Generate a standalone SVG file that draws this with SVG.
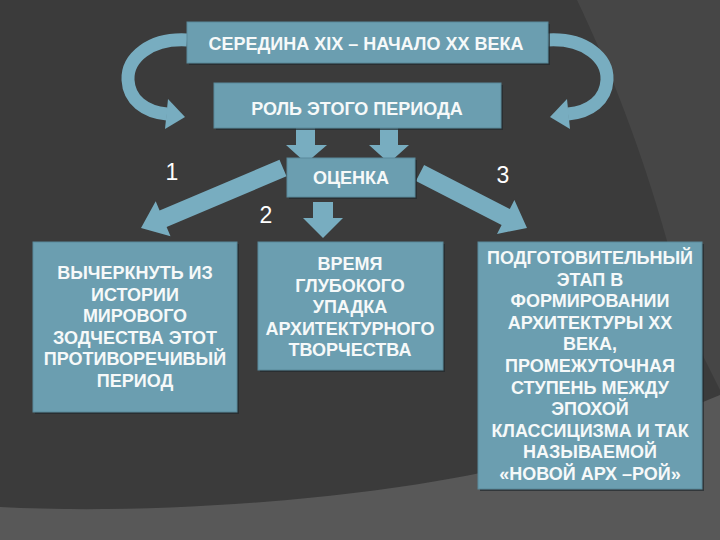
<svg xmlns="http://www.w3.org/2000/svg" width="720" height="540" viewBox="0 0 720 540">
<defs>
<style>
.box{fill:#6b9eb0;stroke:#5a8a9b;stroke-width:1}
.shadow{fill:#222a2d;opacity:0.7}
.arrow{fill:#78adc0}
.t{font-family:"Liberation Sans",Arial,sans-serif;font-size:18px;font-weight:bold;fill:#f6f9f9;text-anchor:middle}
.num{font-family:"Liberation Sans",Arial,sans-serif;font-size:23px;fill:#ffffff;text-anchor:middle}
</style>
</defs>
<rect x="0" y="0" width="720" height="540" fill="#3b3b3b"/>
<path d="M577,0 C615,80 655,180 690,330 L720,390 L720,0 Z" fill="#464646"/>
<path d="M0,507 C150,515 350,500 480,473 C580,452 660,420 720,395 L720,540 L0,540 Z" fill="#585858"/>

<g id="connectors">
<path d="M187,40 C150,38 127,58 128,80 C129,100 145,112 167,114" fill="none" stroke="#78adc0" stroke-width="13"/>
<polygon class="arrow" points="185,117 168,99 165,129"/>
<g transform="translate(735,0) scale(-1,1)">
<path d="M187,40 C150,38 127,58 128,80 C129,100 145,112 167,114" fill="none" stroke="#78adc0" stroke-width="13"/>
<polygon class="arrow" points="185,117 168,99 165,129"/>
</g>
<polygon class="arrow" points="296,128 315,128 315,145 327,145 306,163 286,145 296,145"/>
<polygon class="arrow" points="380,128 398,128 398,145 409,145 389,163 369,145 380,145"/>
<polygon class="arrow" points="313,202 333,202 333,218 343,218 323,238 303,218 313,218"/>
<polygon class="arrow" points="279.5,159.7 159.6,210.4 155.7,201.2 141,228 170.5,236.2 166.6,227 286.5,176.3"/>
<polygon class="arrow" points="424.1,165 509.8,209 514.4,200.1 527,228 497,233.9 501.6,225 415.9,181"/>
</g>

<g id="n-top">
<rect class="shadow" x="189" y="24" width="361" height="41"/>
<rect class="box" x="187" y="22" width="361" height="41"/>
<text class="t" x="366" y="50">СЕРЕДИНА XIX – НАЧАЛО XX ВЕКА</text>
</g>
<g id="n-role">
<rect class="shadow" x="216" y="85" width="287" height="45"/>
<rect class="box" x="214" y="83" width="287" height="45"/>
<text class="t" x="357" y="115">РОЛЬ ЭТОГО ПЕРИОДА</text>
</g>
<g id="n-ocenka">
<rect class="shadow" x="289" y="160" width="128" height="39"/>
<rect class="box" x="287" y="158" width="128" height="39"/>
<text class="t" x="351" y="184">ОЦЕНКА</text>
</g>
<g id="labels">
<text class="num" x="172" y="180">1</text>
<text class="num" x="266" y="223">2</text>
<text class="num" x="503" y="183">3</text>
</g>
<g id="n-left">
<rect class="shadow" x="35" y="244" width="204" height="170"/>
<rect class="box" x="33" y="242" width="204" height="170"/>
<text class="t" x="135" y="279">ВЫЧЕРКНУТЬ ИЗ</text>
<text class="t" x="135" y="300.5">ИСТОРИИ</text>
<text class="t" x="135" y="322">МИРОВОГО</text>
<text class="t" x="135" y="343.5">ЗОДЧЕСТВА ЭТОТ</text>
<text class="t" x="135" y="365">ПРОТИВОРЕЧИВЫЙ</text>
<text class="t" x="135" y="386.5">ПЕРИОД</text>
</g>
<g id="n-center">
<rect class="shadow" x="260" y="244" width="185" height="128"/>
<rect class="box" x="258" y="242" width="185" height="128"/>
<text class="t" x="350" y="270">ВРЕМЯ</text>
<text class="t" x="350" y="291.5">ГЛУБОКОГО</text>
<text class="t" x="350" y="313">УПАДКА</text>
<text class="t" x="350" y="334.5">АРХИТЕКТУРНОГО</text>
<text class="t" x="350" y="356">ТВОРЧЕСТВА</text>
</g>
<g id="n-right">
<rect class="shadow" x="480" y="244" width="224" height="247"/>
<rect class="box" x="478" y="242" width="224" height="247"/>
<text class="t" x="590" y="264">ПОДГОТОВИТЕЛЬНЫЙ</text>
<text class="t" x="590" y="285.6">ЭТАП В</text>
<text class="t" x="590" y="307.2">ФОРМИРОВАНИИ</text>
<text class="t" x="590" y="328.8">АРХИТЕКТУРЫ XX</text>
<text class="t" x="590" y="350.4">ВЕКА,</text>
<text class="t" x="590" y="372">ПРОМЕЖУТОЧНАЯ</text>
<text class="t" x="590" y="393.6">СТУПЕНЬ МЕЖДУ</text>
<text class="t" x="590" y="415.2">ЭПОХОЙ</text>
<text class="t" x="590" y="436.8">КЛАССИЦИЗМА И ТАК</text>
<text class="t" x="590" y="458.4">НАЗЫВАЕМОЙ</text>
<text class="t" x="590" y="480">«НОВОЙ АРХ –РОЙ»</text>
</g>
</svg>
